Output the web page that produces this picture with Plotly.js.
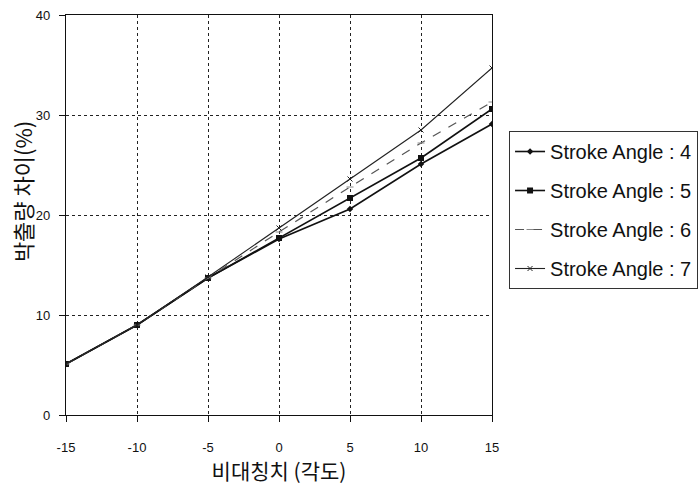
<!DOCTYPE html>
<html>
<head>
<meta charset="utf-8">
<script src="https://cdn.plot.ly/plotly-3.0.1.min.js"></script>
<style>html,body{margin:0;padding:0;background:#fff;}#chart{width:699px;height:488px;}</style>
</head>
<body>
<div id="chart"></div>
<script>
const xValues = [-15, -10, -5, 0, 5, 10, 15];
const seriesNames = ["Stroke Angle : 4", "Stroke Angle : 5", "Stroke Angle : 6", "Stroke Angle : 7"];
const angle4 = [5.1, 9.0, 13.7, 17.6, 20.6, 25.1, 29.1];
const angle5 = [5.1, 9.0, 13.7, 17.7, 21.7, 25.7, 30.6];
const angle6 = [5.1, 9.0, 13.7, 18.3, 22.8, 27.2, 31.3];
const angle7 = [5.1, 9.0, 13.8, 18.7, 23.6, 28.5, 34.7];
const xTicks = [-15, -10, -5, 0, 5, 10, 15];
const xTickText = ["-15", "-10", "-5", "0", "5", "10", "15"];
const yTicks = [0, 10, 20, 30, 40];
const yTickText = ["0", "10", "20", "30", "40"];
const xTitle = '비대칭치 (각도)';
const yTitle = '박출량 차이(%)';

const styles = [
  {line: {color: '#111', width: 1.6, dash: 'solid'}, marker: {symbol: 'diamond', size: 5, color: '#111'}},
  {line: {color: '#111', width: 1.6, dash: 'solid'}, marker: {symbol: 'square', size: 6, color: '#111'}},
  {line: {color: '#555', width: 1.2, dash: 'dash'}, marker: {symbol: 'line-ew', size: 5, color: '#888', line: {width: 1, color: '#888'}}},
  {line: {color: '#222', width: 1.1, dash: 'solid'}, marker: {symbol: 'x-thin', size: 5, color: '#222', line: {width: 1, color: '#222'}}}
];
const data = [angle4, angle5, angle6, angle7].map((ys, i) => ({
  x: xValues, y: ys, type: 'scatter', mode: 'lines+markers', name: seriesNames[i],
  legendgroup: 'g' + i, line: styles[i].line, marker: styles[i].marker
}));

const layout = {
  width: 699, height: 488,
  margin: {l: 66, r: 207, t: 15, b: 73, autoexpand: false},
  paper_bgcolor: '#fff', plot_bgcolor: '#fff',
  font: {family: 'Liberation Sans, Arial, sans-serif', color: '#111', size: 13},
  showlegend: true,
  legend: {
    x: 1.04, xanchor: 'left', y: 0.71, yanchor: 'top',
    bordercolor: '#333', borderwidth: 1, bgcolor: '#fff',
    font: {size: 20, family: 'Liberation Sans, Arial, sans-serif', color: '#111'},
    traceorder: 'grouped', tracegroupgap: 10, itemwidth: 30
  },
  xaxis: {
    range: [-15, 15], tickvals: xTicks, ticktext: xTickText, ticks: 'outside', ticklen: 6, tickcolor: '#111',
    showline: true, linecolor: '#111', linewidth: 1.2, mirror: true,
    showgrid: true, gridcolor: '#222', griddash: 'dot', gridwidth: 1, zeroline: false,
    tickfont: {size: 13}, ticklabelstandoff: 14,
    title: {text: xTitle, font: {family: 'Noto Sans CJK KR, sans-serif', size: 21, color: '#111'}, standoff: 5}
  },
  yaxis: {
    range: [0, 40], tickvals: yTicks, ticktext: yTickText, ticks: 'outside', ticklen: 6, tickcolor: '#111',
    showline: true, linecolor: '#111', linewidth: 1.2, mirror: true,
    showgrid: true, gridcolor: '#222', griddash: 'dot', gridwidth: 1, zeroline: false,
    tickfont: {size: 13}, ticklabelstandoff: 6
  },
  annotations: [{
    text: yTitle, xref: 'paper', yref: 'paper', x: -0.103, y: 0.5575,
    xanchor: 'center', yanchor: 'middle', textangle: -90, showarrow: false,
    font: {family: 'Noto Sans CJK KR, sans-serif', size: 22, color: '#111'}
  }]
};
Plotly.newPlot('chart', data, layout, {displayModeBar: false, staticPlot: true});
</script>
</body>
</html>
